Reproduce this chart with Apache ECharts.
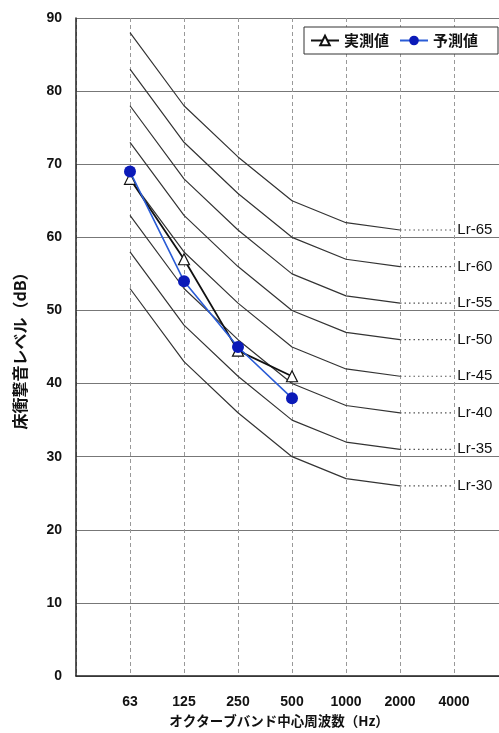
<!DOCTYPE html>
<html>
<head>
<meta charset="utf-8">
<script src="https://cdn.jsdelivr.net/npm/echarts@6/dist/echarts.min.js"></script>
<style>
  html, body { margin: 0; padding: 0; background: #fff; overflow: hidden; }
  /* the plot continues past the right edge of the page */
  #chart { width: 520px; height: 733px; }
</style>
</head>
<body>
<div id="chart"></div>
<script>
// Octave band centre frequencies (x positions 1..7 on the index axis)
const freqLabels = ['63', '125', '250', '500', '1000', '2000', '4000'];

// Lr reference curves, 63 Hz .. 2000 Hz
const lrNames = ['Lr-65', 'Lr-60', 'Lr-55', 'Lr-50', 'Lr-45', 'Lr-40', 'Lr-35', 'Lr-30'];
const lr65 = [88, 78, 71, 65, 62, 61];
const lr60 = [83, 73, 66, 60, 57, 56];
const lr55 = [78, 68, 61, 55, 52, 51];
const lr50 = [73, 63, 56, 50, 47, 46];
const lr45 = [68, 58, 51, 45, 42, 41];
const lr40 = [63, 53, 46, 40, 37, 36];
const lr35 = [58, 48, 41, 35, 32, 31];
const lr30 = [53, 43, 36, 30, 27, 26];
const lrCurves = [lr65, lr60, lr55, lr50, lr45, lr40, lr35, lr30];

// Floor impact sound levels, 63 Hz .. 500 Hz
const measured = [68, 57, 44.5, 41];   // 実測値
const predicted = [69, 54, 45, 38];    // 予測値

const yTicks = [0, 10, 20, 30, 40, 50, 60, 70, 80, 90];

const toPoints = arr => arr.map((v, i) => [i + 1, v]);

const numFont = 'Liberation Sans, Arial, sans-serif';
const jpFont = 'Noto Sans CJK JP';

const series = [];
lrCurves.forEach((curve, k) => {
  series.push({
    name: lrNames[k],
    type: 'line',
    data: toPoints(curve),
    symbol: 'none',
    silent: true,
    lineStyle: { color: '#333', width: 1.2 },
    z: 2
  });
  const last = curve[curve.length - 1];
  series.push({
    name: lrNames[k] + ' guide',
    type: 'line',
    data: [[curve.length, last], [curve.length + 0.95, last]],
    symbol: 'none',
    silent: true,
    lineStyle: { color: '#555', width: 1.2, type: [1.5, 3] },
    endLabel: {
      show: true,
      formatter: lrNames[k],
      distance: 6,
      color: '#111',
      fontFamily: numFont,
      fontSize: 15
    },
    z: 2
  });
});

series.push({
  name: '実測値',
  type: 'line',
  data: toPoints(measured),
  symbol: 'triangle',
  symbolSize: 11,
  itemStyle: { color: '#fff', borderColor: '#111', borderWidth: 1.2 },
  lineStyle: { color: '#111', width: 1.8 },
  z: 4
});
series.push({
  name: '予測値',
  type: 'line',
  data: toPoints(predicted),
  symbol: 'circle',
  symbolSize: 12,
  itemStyle: { color: '#0b1ab8', borderColor: '#0b1ab8', borderWidth: 0 },
  lineStyle: { color: '#2a5cd6', width: 1.6 },
  z: 5
});

const chart = echarts.init(document.getElementById('chart'), null, { renderer: 'canvas' });
chart.setOption({
  animation: false,
  backgroundColor: '#fff',
  grid: { left: 76, right: 12, top: 18, bottom: 57, containLabel: false },
  legend: {
    data: ['実測値', '予測値'],
    left: 304,
    top: 27,
    orient: 'horizontal',
    padding: [6, 20, 6, 6],
    itemWidth: 28,
    itemHeight: 12,
    itemGap: 10,
    borderColor: '#333',
    borderWidth: 1,
    backgroundColor: '#fff',
    textStyle: {
      fontFamily: jpFont,
      fontWeight: 'bold',
      fontSize: 15,
      color: '#111'
    }
  },
  xAxis: {
    type: 'value',
    min: 0,
    max: 8,
    interval: 1,
    name: 'オクターブバンド中心周波数（Hz）',
    nameLocation: 'middle',
    nameGap: 36,
    nameTextStyle: {
      fontFamily: jpFont,
      fontWeight: 'bold',
      fontSize: 13.5,
      color: '#111',
      padding: [0, 26, 0, 0]
    },
    axisLine: { show: true, onZero: false, lineStyle: { color: '#222', width: 1.5 } },
    axisTick: { show: false },
    axisLabel: {
      margin: 19,
      fontFamily: numFont,
      fontWeight: 'bold',
      fontSize: 14,
      color: '#111',
      formatter: v => (v >= 1 && v <= freqLabels.length) ? freqLabels[v - 1] : ''
    },
    splitLine: { show: true, lineStyle: { color: '#999', width: 1, type: [4, 3] } }
  },
  yAxis: {
    type: 'value',
    min: yTicks[0],
    max: yTicks[yTicks.length - 1],
    interval: 10,
    name: '床衝撃音レベル（dB）',
    nameLocation: 'middle',
    nameRotate: 90,
    nameGap: 48,
    nameTextStyle: {
      fontFamily: jpFont,
      fontWeight: 'bold',
      fontSize: 16,
      color: '#111'
    },
    axisLine: { show: true, lineStyle: { color: '#222', width: 1.5 } },
    axisTick: { show: false },
    axisLabel: {
      margin: 14,
      fontFamily: numFont,
      fontWeight: 'bold',
      fontSize: 14,
      color: '#111'
    },
    splitLine: { show: true, lineStyle: { color: '#777', width: 1 } }
  },
  series: series
});
</script>
</body>
</html>
